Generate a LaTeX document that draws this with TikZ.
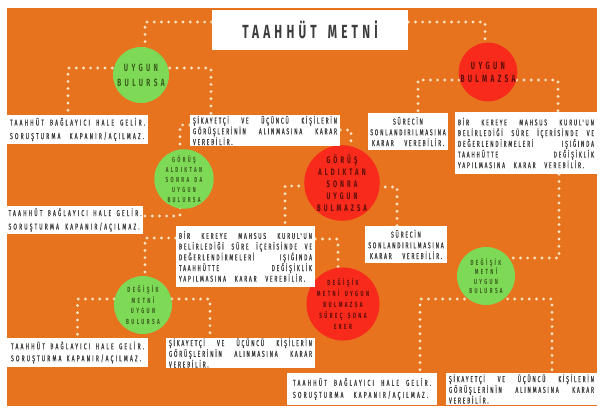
\documentclass[tikz,border=0pt]{standalone}
\usepackage{fontspec}
\setmainfont{Fira Sans}
\newfontfamily\bxf[FakeStretch=0.6,LetterSpace=20,FakeBold=0.6,WordSpace=3.5]{Fira Sans}
\newfontfamily\bxw[FakeStretch=0.6,LetterSpace=25,FakeBold=0.6,WordSpace=3.5]{Fira Sans}
\newfontfamily\ccf[FakeStretch=0.62,LetterSpace=32,WordSpace=1.5]{Fira Sans}
\newfontfamily\tlf[FakeStretch=0.62,LetterSpace=22,WordSpace=1.6]{Fira Sans}
\definecolor{org}{HTML}{E8731F}
\definecolor{grn}{HTML}{7ED957}
\definecolor{grntxt}{HTML}{3B5E1E}
\definecolor{rd}{HTML}{F72A1B}
\definecolor{rdtxt}{HTML}{5C0E0A}
\definecolor{dotc}{HTML}{F7E3C0}
\definecolor{bxtxt}{HTML}{3C3C3C}
\newcommand\jl[2]{\makebox[#1][s]{#2}}
\newcommand\taah[2]{\jl{#1}{TAAHHÜT\hfill BAĞLAYICI\hfill HALE\hfill GELİR.}\\\jl{#2}{SORUŞTURMA\hfill KAPANIR/AÇILMAZ.}}
\newcommand\sikayet[1]{\jl{#1}{ŞİKAYETÇİ\hfill VE\hfill ÜÇÜNCÜ\hfill KİŞİLERİN}\\\jl{#1}{GÖRÜŞLERİNİN\hfill ALINMASINA\hfill KARAR}\\VEREBİLİR.}
\newcommand\birkere[1]{\jl{#1}{BİR\hfill KEREYE\hfill MAHSUS\hfill KURUL'UN}\\\jl{#1}{BELİRLEDİĞİ\hfill SÜRE\hfill İÇERİSİNDE\hfill VE}\\\jl{#1}{DEĞERLENDİRMELERİ\hfill IŞIĞINDA}\\\jl{#1}{TAAHHÜTTE\hfill DEĞİŞİKLİK}\\\jl{126pt}{YAPILMASINA\hfill KARAR\hfill VEREBİLİR.}}
\pgfdeclarelayer{bg}
\pgfdeclarelayer{lines}
\pgfsetlayers{bg,lines,main}
\tikzset{
  bx/.style={fill=white, inner sep=0pt, text=bxtxt, align=left},
  fsmall/.style={font=\bxf\fontsize{8.5}{10.7}\selectfont},
  fwide/.style={font=\bxw\fontsize{8.5}{13.5}\selectfont},
  fmid/.style={font=\bxw\fontsize{8.5}{12}\selectfont},
  gc/.style={circle, fill=grn, inner sep=0pt, align=center, text=grntxt},
  rc/.style={circle, fill=rd, inner sep=0pt, align=center, text=rdtxt},
  dots/.style={draw=dotc, line width=3.2pt, line cap=round, dash pattern=on 0pt off 7.2pt},
}
\begin{document}
\begin{tikzpicture}[x=1pt,y=-1pt]
\useasboundingbox (0,0) rectangle (600,412);
\begin{pgfonlayer}{bg}
\fill[white] (0,0) rectangle (600,412);
\fill[org] (7,8) rectangle (597,406);
\end{pgfonlayer}
% title
\node[fill=white, minimum width=196pt, minimum height=40pt, inner sep=0pt, text=bxtxt,
  font=\tlf\bfseries\fontsize{19}{19}\selectfont] (title) at (310,30) {TAAHHÜT METNİ};
% circles
\node[gc, minimum size=56pt, font=\ccf\bfseries\fontsize{10.5}{15}\selectfont] (c1) at (141,75) {UYGUN\\BULURSA};
\node[rc, minimum size=58pt, font=\ccf\bfseries\fontsize{10.5}{13}\selectfont] (c2) at (488,72) {UYGUN\\BULMAZSA};
\node[gc, minimum size=58pt, font=\ccf\bfseries\fontsize{7.3}{10}\selectfont] (c3) at (184,179) {GÖRÜŞ\\ALDIKTAN\\SONRA DA\\UYGUN\\BULURSA};
\node[rc, minimum size=60pt, font=\ccf\bfseries\fontsize{9.5}{12}\selectfont] (c4) at (342,183) {GÖRÜŞ\\ALDIKTAN\\SONRA\\UYGUN\\BULMAZSA};
\node[gc, minimum size=58pt, font=\ccf\bfseries\fontsize{7.5}{10.5}\selectfont] (c5) at (143,305) {DEĞİŞİK\\METNİ\\UYGUN\\BULURSA};
\node[rc, minimum size=62pt, font=\ccf\bfseries\fontsize{7.5}{11}\selectfont] (c6) at (343,304) {DEĞİŞİK\\METNİ UYGUN\\BULMAZSA\\SÜREÇ SONA\\ERER};
\node[gc, minimum size=58pt, font=\ccf\bfseries\fontsize{7.4}{9.5}\selectfont] (c7) at (486,276) {DEĞİŞİK\\METNİ\\UYGUN\\BULURSA};
% boxes
\node[bx, fwide, minimum width=141pt, minimum height=29pt] (b1) at (77.5,129.5) {\taah{135pt}{134pt}};
\node[bx, fsmall, minimum width=150pt, minimum height=31pt] (b2) at (265,130.5) {\sikayet{144pt}};
\node[bx, fsmall, align=center, minimum width=80pt, minimum height=37pt] (b3) at (408,131.5)
  {SÜRECİN\\SONLANDIRILMASINA\\KARAR VEREBİLİR.};
\node[bx, fsmall, minimum width=142pt, minimum height=62pt] (b4) at (526,143) {\birkere{136pt}};
\node[bx, fwide, minimum width=136pt, minimum height=28pt] (b5) at (75,220) {\taah{133pt}{131pt}};
\node[bx, fsmall, minimum width=139pt, minimum height=61pt] (b6) at (245.5,256.5) {\birkere{133pt}};
\node[bx, fsmall, align=center, minimum width=82pt, minimum height=37pt] (b7) at (406,244.5)
  {SÜRECİN\\SONLANDIRILMASINA\\KARAR VEREBİLİR.};
\node[bx, fmid, minimum width=141pt, minimum height=29pt] (b8) at (77.5,352.5) {\taah{133pt}{130pt}};
\node[bx, fsmall, minimum width=149pt, minimum height=28pt] (b9) at (240.5,353) {\sikayet{143pt}};
\node[bx, fmid, minimum width=150pt, minimum height=32pt] (b10) at (362,389) {\taah{138pt}{135pt}};
\node[bx, fsmall, minimum width=151pt, minimum height=32pt] (b11) at (521.5,389) {\sikayet{145pt}};
% connectors
\begin{pgfonlayer}{lines}
\draw[dots] ([yshift=8pt]title.west) -| ([xshift=4pt]c1.center);
\draw[dots] ([yshift=8pt]title.east) -| ([xshift=-3pt]c2.center);
\draw[dots] ([yshift=7pt]c1.center) -| ([xshift=-9.5pt]b1.north);
\draw[dots] ([yshift=7pt]c1.center) -| ([xshift=-54pt]b2.north);
\draw[dots] ([yshift=-8pt]c2.center) -| ([xshift=10pt]b3.north);
\draw[dots] ([yshift=-8pt]c2.center) -| ([xshift=32pt]b4.north);
\draw[dots] ([yshift=5.5pt]b2.west) -| ([xshift=-4pt]c3.center);
\draw[dots] ([yshift=0.5pt]b2.east) -| ([xshift=9pt]c4.center);
\draw[dots] ([xshift=-4pt]c3.center) |- ([yshift=4pt]b5.east);
\draw[dots] ([yshift=-3pt]c4.center) -| ([xshift=39.5pt]b6.north);
\draw[dots] ([yshift=-4pt]c4.center) -| ([xshift=-9pt]b7.north);
\draw[dots] ([yshift=18.5pt]b6.west) -| ([xshift=2pt]c5.center);
\draw[dots] ([yshift=17.5pt]b6.east) -| ([xshift=-5pt]c6.center);
\draw[dots] ([xshift=33pt]b4.south) |- ([yshift=18pt]c7.center);
\draw[dots] ([yshift=6pt]c5.center) -| (b8.north);
\draw[dots] ([yshift=6pt]c5.center) -| ([xshift=-30.5pt]b9.north);
\draw[dots] ([yshift=-23pt]c7.center) -| ([xshift=58pt]b10.north);
\draw[dots] ([yshift=-23pt]c7.center) -| ([xshift=30.5pt]b11.north);
\end{pgfonlayer}
\end{tikzpicture}
\end{document}
